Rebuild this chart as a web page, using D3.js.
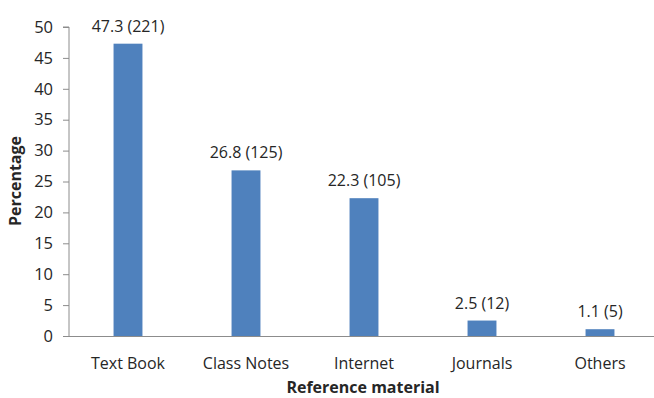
<!DOCTYPE html>
<html><head><meta charset="utf-8">
<script src="https://cdn.jsdelivr.net/npm/d3@7"></script>
<style>body{margin:0;background:#fff}svg{display:block}text{font-family:"Open Sans",sans-serif;fill:#262626}</style>
</head><body><svg width="654" height="398"></svg>
<script>
const categories = ["Text Book","Class Notes","Internet","Journals","Others"];
const percentages = [47.3, 26.8, 22.3, 2.5, 1.1];
const counts = [221, 125, 105, 12, 5];
const yTicks = [0,5,10,15,20,25,30,35,40,45,50];
const xTitle = "Reference material";
const yTitle = "Percentage";

const svg = d3.select("svg");
const x = d3.scaleBand().domain(categories).range([69, 659]).paddingInner(0.755).paddingOuter(0.3775);
const y = d3.scaleLinear().domain([0,50]).range([336, 27]);

const yAxis = svg.append("g").attr("transform","translate(69,0)")
  .call(d3.axisLeft(y).tickValues(yTicks).tickSize(6).tickPadding(10));
yAxis.select(".domain").attr("stroke","#8c8c8c").attr("d","M-6,27H0V336");
yAxis.selectAll(".tick line").attr("stroke","#8c8c8c");
yAxis.selectAll(".tick text").style("font-size","16.5px").attr("fill","#262626");

svg.append("line").attr("x1",69).attr("x2",654).attr("y1",336.5).attr("y2",336.5).attr("stroke","#8c8c8c");

svg.selectAll("rect.bar").data(categories).enter().append("rect")
  .attr("x", d => x(d)).attr("width", x.bandwidth())
  .attr("y", (d,i) => y(percentages[i])).attr("height", (d,i) => 336 - y(percentages[i]))
  .attr("fill","#4f81bd");

svg.selectAll("text.val").data(categories).enter().append("text")
  .attr("x", d => x(d) + x.bandwidth()/2).attr("y", (d,i) => y(percentages[i]) - 12)
  .attr("text-anchor","middle").style("font-size","16px")
  .text((d,i) => `${percentages[i]} (${counts[i]})`);

svg.selectAll("text.cat").data(categories).enter().append("text")
  .attr("x", d => x(d) + x.bandwidth()/2).attr("y", 369)
  .attr("text-anchor","middle").style("font-size","16px").text(d => d);

svg.append("text").attr("x",363).attr("y",393).attr("text-anchor","middle")
  .style("font-size","16px").style("font-weight","bold").text(xTitle);
svg.append("text").attr("transform","translate(21,181) rotate(-90)").attr("text-anchor","middle")
  .style("font-size","16px").style("font-weight","bold").text(yTitle);
</script></body></html>
